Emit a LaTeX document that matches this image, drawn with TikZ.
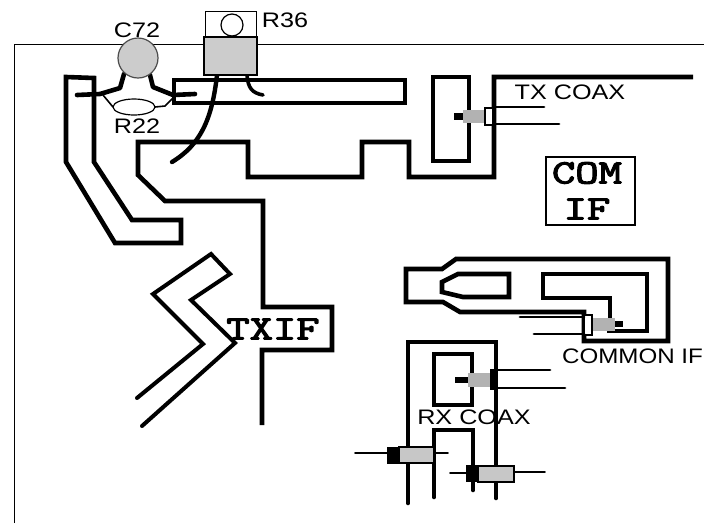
\documentclass[tikz,border=0pt]{standalone}
\usepackage{fontspec}
\usetikzlibrary{shapes.geometric}
\setmainfont{Liberation Sans}
\newfontfamily\monob{Latin Modern Mono}[FakeBold=3]
\newcommand{\sanslabel}[2][1.2]{\scalebox{#1}[1]{\fontsize{21}{21}\selectfont #2}}
\newcommand{\monolabel}[1]{\scalebox{1.33}[1]{\fontsize{34}{34}\monob #1}}
\tikzset{
  trace/.style={draw=black,line width=4.6pt,line join=miter,line cap=butt},
  rtrace/.style={draw=black,line width=4.6pt,line cap=round,line join=round},
  lead/.style={draw=black,line width=2.8pt,line cap=round},
  thinlead/.style={draw=black,line width=1.6pt},
  frameline/.style={draw=black,line width=1pt},
  lbl/.style={inner sep=0pt,anchor=center},
  graybody/.style={fill=black!22,draw=none},
  connbox/.style={fill=white,draw=black,line width=2pt},
}
\begin{document}
\begin{tikzpicture}[x=1pt,y=-1pt]
\useasboundingbox (0,0) rectangle (704,523);
\fill[white] (0,0) rectangle (704,523);
% frame
\draw[frameline] (14,523) -- (14,44) -- (704,44);
% left trace
\draw[trace] (66,77) -- (94,78) -- (94,162) -- (132,220) -- (181,220) -- (181,243) -- (115,243) -- (66,162) -- cycle;
% bar
\draw[trace] (174,80) rectangle (405,103);
% main trace
\draw[trace] (693,77) -- (494,77) -- (494,177) -- (409,177) -- (409,142) -- (362,142) -- (362,177) -- (248,177) -- (248,142) -- (138,142) -- (138,175) -- (165,201) -- (263,201) -- (263,307) -- (332,307) -- (332,350) -- (262,350) -- (262,425);
% zigzag
\draw[rtrace,line width=4pt,line join=miter] (137,398) -- (203,344) -- (153,294) -- (211,254) -- (230,274) -- (191,300) -- (235,343) -- (142,426);
% TX loop
\draw[trace] (433,77) rectangle (469,161);
% COM IF box
\draw[draw=black,line width=2.6pt] (546,157) rectangle (635,225);
% common IF
\draw[trace] (406,269) -- (442,269) -- (456,259) -- (668,259) -- (668,341) -- (584,341) -- (584,312) -- (460,312) -- (443,302) -- (406,302) -- cycle;
\draw[trace] (442,282) -- (458,274) -- (509,274) -- (509,297) -- (463,297) -- (442,292) -- cycle;
\draw[trace] (607,331) -- (647,331) -- (647,274) -- (543,274) -- (543,298) -- (610,298) -- (610,320);
% RX traces
\draw[rtrace,line join=miter] (408,503) -- (408,342) -- (496,342) -- (496,498);
\draw[trace] (434,354) rectangle (472,405);
\draw[rtrace,line join=miter] (434,497) -- (434,430) -- (473,430) -- (473,490);
% TX connector
\fill[black] (454,113) rectangle (464,120);
\fill[black!30] (463,110) rectangle (485,123);
\draw[connbox] (485,108) rectangle (493,125);
\draw[lead] (495,107) -- (544,107);
\draw[lead] (495,124) -- (559,124);
% common IF connector
\fill[black] (615,321) rectangle (623,327);
\fill[black!30] (592,318) rectangle (615,331);
\draw[connbox] (584,315) rectangle (592,335);
\draw[lead] (520,317) -- (584,317);
\draw[lead] (534,334) -- (584,334);
% RX connector
\fill[black] (455,377) rectangle (468,383);
\fill[black!30] (468,373) rectangle (490,387);
\fill[black] (490,369) rectangle (498,390);
\draw[lead] (498,370) -- (550,370);
\draw[lead] (498,388) -- (565,388);
% components 1 and 2
\draw[lead,line width=1.8pt] (355,453) -- (387,453);
\draw[lead,line width=1.8pt] (434,453) -- (448,453);
\fill[black] (387,447) rectangle (399,464);
\draw[graybody,draw=black,line width=1.4pt] (399,447) rectangle (434,463);
\draw[lead,line width=1.8pt] (450,473) -- (466,473);
\draw[lead,line width=1.8pt] (514,472) -- (545,472);
\fill[black] (466,465) rectangle (478,482);
\draw[graybody,draw=black,line width=1.4pt] (478,466) rectangle (514,482);
% R22
\draw[thinlead] (103,95) -- (113,107);
\draw[thinlead] (155,107) -- (165,106) -- (173,98);
\node[draw=black,line width=1.2pt,fill=white,ellipse,minimum width=42pt,minimum height=16pt,inner sep=0pt] (r22body) at (134,107) {};
% C72 legs
\draw[rtrace] (77,95) -- (100,94) -- (120,88) -- (124,74);
\draw[rtrace] (150,75) -- (153,87) -- (173,95) -- (195,94);
% C72
\node[circle,draw=black!70,line width=1.2pt,fill=black!20,minimum size=40pt,inner sep=0pt] (c72body) at (138,58) {};
% R36
\draw[draw=black,line width=1pt,fill=white] (205,11) rectangle (256,37);
\node[circle,draw=black,line width=1.2pt,minimum size=22pt,inner sep=0pt] (r36hole) at (232,25) {};
\draw[rtrace,line width=4.4pt] (217,75) .. controls (212,120) and (200,145) .. (172,162);
\draw[rtrace,line width=3.6pt] (247,75) .. controls (248,88) and (252,93) .. (263,95);
\draw[draw=black,line width=1.4pt,fill=black!20] (204,37) rectangle (257,75);
\draw[draw=black,line width=1.8pt] (204,36.5) -- (257,36.5);
% labels
\node[lbl] (c72) at (137,30) {\sanslabel{C72}};
\node[lbl] (r36) at (285,20) {\sanslabel{R36}};
\node[lbl] (r22) at (137,126) {\sanslabel{R22}};
\node[lbl] (txcoax) at (570,92) {\sanslabel{TX COAX}};
\node[lbl] (commonif) at (632.5,356) {\sanslabel[1.15]{COMMON IF}};
\node[lbl] (rxcoax) at (474,417) {\sanslabel{RX COAX}};
\node[lbl] (com) at (587,173) {\monolabel{COM}};
\node[lbl] (if) at (587,209) {\monolabel{IF}};
\node[lbl] (txif) at (273,329) {\monolabel{TXIF}};
\end{tikzpicture}
\end{document}
